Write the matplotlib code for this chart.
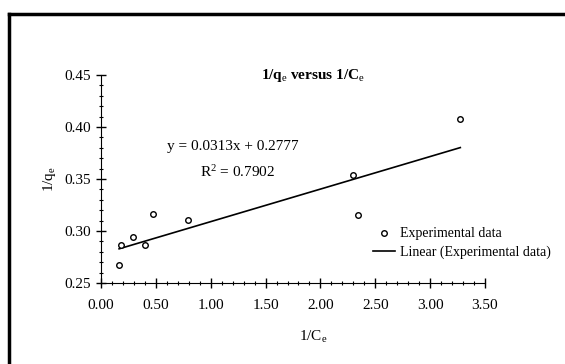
import numpy as np
import matplotlib
matplotlib.use('Agg')
import matplotlib.pyplot as plt
from matplotlib.lines import Line2D
from matplotlib.ticker import MultipleLocator, FormatStrFormatter

plt.rcParams['font.family'] = ['Liberation Serif', 'DejaVu Serif']
plt.rcParams['mathtext.fontset'] = 'custom'
plt.rcParams['mathtext.rm'] = 'Liberation Serif'
plt.rcParams['mathtext.it'] = 'Liberation Serif'
plt.rcParams['mathtext.bf'] = 'Liberation Serif:bold'

# Datos
inv_ce = [0.165, 0.185, 0.29, 0.40, 0.475, 0.795, 2.30, 2.34, 3.275]
inv_qe = [0.267, 0.287, 0.294, 0.287, 0.316, 0.311, 0.354, 0.315, 0.408]

# Ajuste lineal indicado en el gráfico
pendiente = 0.0313
intercepto = 0.2777
r2 = 0.7902

x_fit = np.array([min(inv_ce), max(inv_ce)])
y_fit = pendiente * x_fit + intercepto

fig = plt.figure(figsize=(5.65, 3.64), dpi=100)
ax = fig.add_axes([101/565, 1-283/364, 384/565, 208/364])

ax.plot(inv_ce, inv_qe, 'o', mfc='white', mec='black', ms=4, mew=1,
        label='Experimental data', zorder=3)
ax.plot(x_fit, y_fit, '-', color='black', lw=1.2,
        label='Linear (Experimental data)')

ax.set_xlim(0, 3.5)
ax.set_ylim(0.25, 0.45)
ax.xaxis.set_major_locator(MultipleLocator(0.5))
ax.xaxis.set_minor_locator(MultipleLocator(0.1))
ax.yaxis.set_major_locator(MultipleLocator(0.05))
ax.yaxis.set_minor_locator(MultipleLocator(0.01))
ax.xaxis.set_major_formatter(FormatStrFormatter('%.2f'))
ax.yaxis.set_major_formatter(FormatStrFormatter('%.2f'))
ax.tick_params(which='major', direction='inout', length=7, width=1, labelsize=11)
ax.tick_params(which='minor', direction='inout', length=3, width=0.8)
ax.tick_params(axis='x', pad=8)
ax.spines['top'].set_visible(False)
ax.spines['right'].set_visible(False)

ax.set_title('1/q$_e$ versus 1/C$_e$', fontsize=11, fontweight='bold', x=0.552, y=1.0, pad=-3)
ax.set_xlabel('1/C$_e$', fontsize=11, x=0.552, labelpad=12)
ax.set_ylabel('1/q$_e$', fontsize=11, labelpad=5)

ax.text(0.344, 0.654, 'y = 0.0313x + 0.2777', transform=ax.transAxes,
        ha='center', va='center', fontsize=11)
ax.text(0.356, 0.534, 'R$^2$ = %.4f' % r2, transform=ax.transAxes,
        ha='center', va='center', fontsize=11)

ax.legend(loc='lower right', bbox_to_anchor=(1.185, 0.09), frameon=False,
          fontsize=10, handlelength=1.6, handletextpad=0.3, labelspacing=0.35,
          borderaxespad=0)

# marco negro alrededor
fig.add_artist(Line2D([9/565, 1.0], [1-14/364, 1-14/364], color='black', lw=2.5,
                      transform=fig.transFigure))
fig.add_artist(Line2D([9/565, 9/565], [0.0, 1-14/364], color='black', lw=2.5,
                      transform=fig.transFigure))

plt.savefig('out.png', dpi=100)
